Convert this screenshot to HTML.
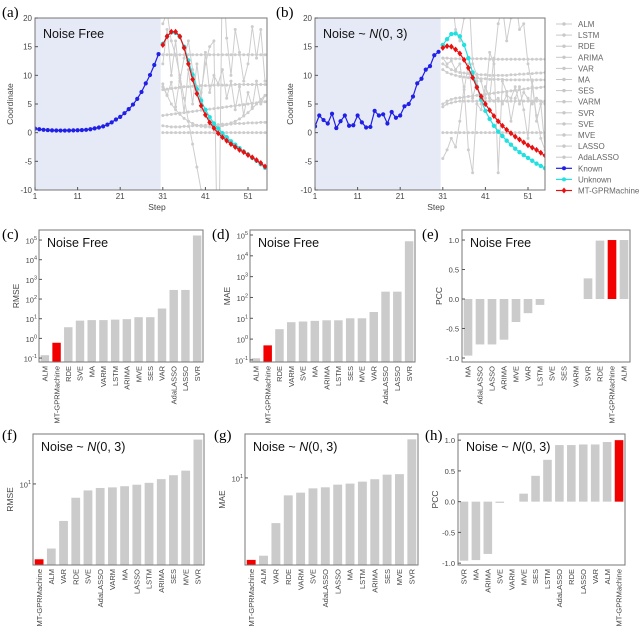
<!DOCTYPE html>
<html><head><meta charset="utf-8">
<style>
html,body{margin:0;padding:0;background:#fff;overflow:hidden;}
svg{display:block;font-family:"Liberation Sans",sans-serif;}
</style></head>
<body>
<svg id="fig" width="640" height="628" viewBox="0 0 640 628"></svg>
<script>
// ---------- line chart data ----------
const knownA = [0.7,0.6,0.5,0.45,0.4,0.38,0.37,0.37,0.38,0.4,0.42,0.45,0.5,0.6,0.75,0.9,1.1,1.4,1.8,2.3,2.75,3.4,4.1,4.9,5.9,7.1,8.6,10.05,11.8,13.7];
const unknownA = [15.5,16.8,17.5,17.4,16.7,15,12.6,10.1,7.6,5.6,4.0,2.7,1.6,0.7,-0.1,-0.8,-1.5,-2.1,-2.7,-3.3,-3.8,-4.4,-4.9,-5.5,-6.1];
const mtA = [15.3,16.8,17.6,17.6,16.8,14.8,12,9.3,6.8,4.7,3.1,1.8,0.8,-0.1,-0.8,-1.4,-2,-2.5,-3,-3.4,-3.9,-4.3,-4.8,-5.3,-5.9];
const grayA1 = [13.6,13.6,13.6,13.6,13.6,13.6,13.6,13.6,13.6,13.6,13.6,13.6,13.6,13.6,13.6,13.6,13.6,13.6,13.6,13.6,13.6,13.6,13.6,13.6,13.6];
const grayA2 = [0,0,0,0,0,0,0,0,0,0,0,0,0,0,0,0,0,0,0,0,0,0,0,0,0];
const grayA3 = [3.0,3.1,3.2,3.3,3.4,3.5,3.6,3.7,3.8,3.9,4.0,4.1,4.2,4.3,4.4,4.5,4.6,4.7,4.8,4.9,5.0,5.1,5.2,5.3,5.4];
const grayA4 = [7.5,7.6,7.7,7.8,7.9,8.0,8.0,8.1,8.1,8.2,8.2,8.2,8.3,8.3,8.3,8.3,8.3,8.4,8.4,8.4,8.4,8.4,8.4,8.4,8.4];
const grayA5 = [8.5,6.5,8.8,4.5,9.5,3.5,11,5,12,6,14,7,10,8.5,11,6,9,4,8,3,7,4.5,9,5,6.5];
const grayA6 = [19,21,16,13.5,10,6,2,-2,-6,-10,-14,-18,-22,-26,-30,-34,-38,-42,-46,-50,-54,-58,-62,-66,-70];
const grayA7 = [8,6.5,5,4,3.2,2.5,2,1.6,1.3,1.1,1.0,1.0,1.0,1.1,1.2,1.4,1.7,2.0,2.4,2.9,3.5,4.2,5.0,5.8,6.5];
const grayA8 = [1.2,1.1,1.0,1.0,1.0,1.1,1.1,1.2,1.2,1.3,1.3,1.4,1.4,1.4,1.5,1.5,1.5,1.6,1.6,1.6,1.7,1.7,1.7,1.8,1.8];
const grayA9 = [12,18,10,16,9,13,16,11,8,7,12,15,16,-30,30,16.5,10,18,14,9,12,18.5,13,18,9];

const knownB = [1.1,3.0,2.2,1.6,3.3,0.8,2.0,3.0,1.2,1.3,3.0,1.8,0.9,1.0,3.8,3.0,3.2,1.6,3.6,2.6,3.0,4.6,5.0,6.3,8.6,9.4,11,11.6,13.5,14.1];
const unknownB = [15.3,16.3,17.2,17.3,16.8,15.3,13,10.5,8,5.8,3.8,2.4,1.2,0.2,-0.6,-1.4,-2.1,-2.8,-3.4,-3.9,-4.4,-4.9,-5.4,-5.8,-6.2];
const mtB = [14.8,15.1,15.0,14.5,13.8,12.7,11.3,9.6,7.9,6.3,5.0,3.9,2.9,2.0,1.2,0.5,-0.1,-0.7,-1.2,-1.7,-2.2,-2.6,-3.0,-3.5,-4.0];
const grayB1 = [13.0,13.0,12.9,12.9,12.9,12.9,12.9,12.9,12.9,12.9,12.9,12.8,12.8,12.8,12.8,12.8,12.8,12.8,12.8,12.8,12.8,12.8,12.8,12.8,12.8];
const grayB2 = [0,0,0,0,0,0,0,0,0,0,0,0,0,0,0,0,0,0,0,0,0,0,0,0,0];
const grayB3 = [11,10.5,10.2,10,9.8,9.7,9.6,9.5,9.5,9.4,9.4,9.3,9.3,9.3,9.3,9.2,9.2,9.2,9.2,9.2,9.2,9.2,9.2,9.2,9.2];
const grayB4 = [12,11.5,11,10.7,10.5,10.4,10.3,10.2,10.2,10.1,10.1,10,10,10,10,10,10.1,10.1,10.2,10.2,10.3,10.3,10.4,10.4,10.5];
const grayB5 = [5,5.5,5.8,6,6.1,6.2,6.3,6.4,6.5,6.6,6.7,6.8,6.9,7,7.1,7.2,7.3,7.4,7.5,7.6,7.7,7.8,7.8,7.9,8];
const grayB6 = [4.5,5,5.2,5.4,5.5,5.5,5.5,5.5,5.5,5.5,5.5,5.5,5.5,5.5,5.5,5.5,5.5,5.5,5.5,5.5,5.5,5.5,5.5,5.5,5.5];
const grayB7 = [-4.5,-3,-1,-2.5,2,8,-3,-7,5,4,8,6,13,-7,9,7,2,6,8,4,-1,9,2,5,-2.5];
const grayB8 = [22,30,25,18,16,20,26,12,10,9,6,14,12,19,22,16,20,24,18,19,12,8,3,-1,-3];
const grayB9 = [13,12,12.5,11,12,7.5,12,6,9,5,8,6,5.5,6,5,6.5,6,8,5,7,6,5,6,5.5,5];

const stepTicks = [1,11,21,31,41,51];
const coordTicks = [-10,-5,0,5,10,15,20];
const legendNames = ["ALM","LSTM","RDE","ARIMA","VAR","MA","SES","VARM","SVR","SVE","MVE","LASSO","AdaLASSO"];

// ---------- bar chart data ----------
const catsC = ["ALM","MT-GPRMachine","RDE","SVE","MA","VARM","LSTM","ARIMA","MVE","SES","VAR","AdaLASSO","LASSO","SVR"];
const valsC = [0.14,0.6,3.7,8,8.5,8.5,9,9.5,12,12,33,290,290,170000];
const catsD = ["ALM","MT-GPRMachine","RDE","VARM","SVE","MA","ARIMA","LSTM","SES","MVE","VAR","AdaLASSO","LASSO","SVR"];
const valsD = [0.12,0.5,3,6.5,7,7.5,8,8,10,10,20,190,190,50000];
const catsE = ["MA","AdaLASSO","LASSO","ARIMA","MVE","VAR","LSTM","SVE","SES","VARM","SVR","RDE","MT-GPRMachine","ALM"];
const valsE = [-0.96,-0.77,-0.77,-0.69,-0.39,-0.24,-0.1,0,0,0,0.35,0.99,1.0,1.0];
const catsF = ["MT-GPRMachine","ALM","VAR","RDE","SVE","AdaLASSO","VARM","MA","LASSO","LSTM","ARIMA","SES","MVE","SVR"];
const valsF = [2.58,3.13,5.14,7.8,8.9,9.3,9.4,9.6,9.86,10.2,10.9,11.7,12.7,22.2];
const catsG = ["MT-GPRMachine","ALM","VAR","RDE","VARM","SVE","AdaLASSO","LASSO","MA","LSTM","ARIMA","SES","MVE","SVR"];
const valsG = [2.32,2.5,4.47,7.33,7.69,8.3,8.46,8.87,9.04,9.36,9.77,10.6,10.7,19.9];
const catsH = ["SVR","MA","ARIMA","SVE","VARM","MVE","SES","LSTM","AdaLASSO","RDE","LASSO","VAR","ALM","MT-GPRMachine"];
const valsH = [-0.96,-0.95,-0.85,-0.02,0,0.13,0.42,0.68,0.92,0.92,0.93,0.93,0.97,1.0];
const logTicksCD = [-1,0,1,2,3,4,5];
const pccTicks = [-1.0,-0.5,0.0,0.5,1.0];

// ---------- helpers ----------
const NS = "http://www.w3.org/2000/svg";
const fig = document.getElementById("fig");
function mk(parent, tag, attrs, name, inter) {
  const el = document.createElementNS(NS, tag);
  for (const k in attrs) el.setAttribute(k, attrs[k]);
  
  
  parent.appendChild(el);
  return el;
}
function txt(parent, x, y, s, size, name, extra) {
  const a = Object.assign({x:x, y:y, 'font-size':size, fill:'#444'}, extra || {});
  const t = mk(parent, 'text', a, name, false);
  t.textContent = s;
  return t;
}
function sup10(parent, x, y, e, name) {
  const t = mk(parent, 'text', {x:x, y:y, 'font-size':7.5, fill:'#444', 'text-anchor':'end'}, name, false);
  const a = document.createElementNS(NS, 'tspan');
  a.textContent = '10';
  t.appendChild(a);
  const b = document.createElementNS(NS, 'tspan');
  b.setAttribute('dy', '-3.5');
  b.setAttribute('font-size', '5.5');
  b.textContent = String(e);
  t.appendChild(b);
}
function noiseTitle(parent, x, y, name) {
  const t = mk(parent, 'text', {x:x, y:y, 'font-size':12.5, fill:'#111'}, name, false);
  t.appendChild(document.createTextNode('Noise ~ '));
  const i = document.createElementNS(NS, 'tspan');
  i.setAttribute('font-style', 'italic');
  i.textContent = 'N';
  t.appendChild(i);
  t.appendChild(document.createTextNode('(0, 3)'));
}
function panelLabel(x, y, s) {
  txt(fig, x, y, s, 15, 'panel-label-' + s.replace(/[()]/g,''), {'font-family':'"Liberation Serif",serif', fill:'#000'});
}
function ptsStr(xs, ys, start, arr) {
  return arr.map((v,i)=> xs(start+i).toFixed(1)+','+ys(v).toFixed(1)).join(' ');
}

// ---------- line chart ----------
function lineChart(id, L, R, T, B, known, unknown, mt, grays, titleFn) {
  const g = mk(fig, 'g', {}, 'line-chart-' + id, false);
  const xs = s => L + (s - 1) * 4.26;
  const ys = v => B - (v + 10) / 30 * (B - T);
  mk(g, 'rect', {x:L, y:T, width:xs(30.5)-L, height:B-T, fill:'#e6eaf6'}, 'known-region-shade', false);
  const cp = mk(g, 'clipPath', {id:'clip'+id}, 'plot-clip', false);
  mk(cp, 'rect', {x:L, y:T, width:R-L, height:B-T}, 'clip-rect', false);
  const pg = mk(g, 'g', {'clip-path':'url(#clip'+id+')'}, 'plot-area', false);
  grays.forEach((arr, k) => {
    mk(pg, 'polyline', {points:ptsStr(xs, ys, 31, arr), fill:'none', stroke:'#cdcdcd', 'stroke-width':1}, 'baseline-series-line', false);
    arr.forEach((v,i) => {
      mk(pg, 'circle', {cx:xs(31+i), cy:ys(v), r:1.5, fill:'#cdcdcd'}, 'baseline-point', false);
    });
  });
  mk(pg, 'polyline', {points:ptsStr(xs, ys, 1, known), fill:'none', stroke:'#1f1fe6', 'stroke-width':1.2}, 'known-line', false);
  known.forEach((v,i) => {
    mk(pg, 'circle', {cx:xs(1+i), cy:ys(v), r:2.1, fill:'#1f1fe6'}, 'known-point', false);
  });
  mk(pg, 'polyline', {points:ptsStr(xs, ys, 31, unknown), fill:'none', stroke:'#22e0e0', 'stroke-width':1.2}, 'unknown-line', false);
  unknown.forEach((v,i) => {
    mk(pg, 'circle', {cx:xs(31+i), cy:ys(v), r:2.2, fill:'#22e0e0'}, 'unknown-point', false);
  });
  mk(pg, 'polyline', {points:ptsStr(xs, ys, 31, mt), fill:'none', stroke:'#e81010', 'stroke-width':1.2}, 'mt-gpr-line', false);
  mt.forEach((v,i) => {
    const x = xs(31+i), y = ys(v);
    mk(pg, 'polygon', {points:`${x},${y-3} ${x+2.4},${y} ${x},${y+3} ${x-2.4},${y}`, fill:'#e81010'}, 'mt-gpr-point', false);
  });
  mk(g, 'rect', {x:L, y:T, width:R-L, height:B-T, fill:'none', stroke:'#777', 'stroke-width':1}, 'plot-frame', false);
  stepTicks.forEach(s => {
    mk(g, 'line', {x1:xs(s), x2:xs(s), y1:B, y2:B-3, stroke:'#555'}, 'x-tick', false);
    txt(g, xs(s), B+9, String(s), 8, 'x-tick-label', {'text-anchor':'middle'});
  });
  coordTicks.forEach(v => {
    mk(g, 'line', {x1:L, x2:L+3, y1:ys(v), y2:ys(v), stroke:'#555'}, 'y-tick', false);
    txt(g, L-3, ys(v)+3, String(v), 8, 'y-tick-label', {'text-anchor':'end'});
  });
  txt(g, (L+R)/2 + 6, B+20, 'Step', 8.5, 'x-axis-title', {'text-anchor':'middle'});
  txt(g, 0, 0, 'Coordinate', 8.5, 'y-axis-title', {'text-anchor':'middle', transform:`translate(${L-22},${(T+B)/2}) rotate(-90)`});
  titleFn(g, L+8, T+20);
}
lineChart('a', 35, 267, 18, 190, knownA, unknownA, mtA,
  [grayA1,grayA2,grayA3,grayA4,grayA5,grayA6,grayA7,grayA8,grayA9],
  (g,x,y) => txt(g, x, y, 'Noise Free', 12.5, 'panel-title', {fill:'#111'}));
lineChart('b', 315, 545, 18, 190, knownB, unknownB, mtB,
  [grayB1,grayB2,grayB3,grayB4,grayB5,grayB6,grayB7,grayB8,grayB9],
  (g,x,y) => noiseTitle(g, x, y, 'panel-title'));
panelLabel(2, 17, '(a)');
panelLabel(276, 17, '(b)');

// legend
const lg = mk(fig, 'g', {}, 'legend', false);
legendNames.forEach((n, i) => {
  const y = 24 + i * 11.1;
  const e = mk(lg, 'g', {}, 'legend-entry-' + n.toLowerCase(), true);
  mk(e, 'line', {x1:556, x2:572, y1:y, y2:y, stroke:'#c8c8c8'}, 'legend-line', false);
  mk(e, 'circle', {cx:564, cy:y, r:1.7, fill:'#c8c8c8'}, 'legend-marker', false);
  txt(e, 578, y+3, n, 8, 'legend-text', {fill:'#666'});
});
[['Known','#1f1fe6'],['Unknown','#22e0e0'],['MT-GPRMachine','#e81010']].forEach((p, j) => {
  const y = 24 + (13 + j) * 11.1;
  const e = mk(lg, 'g', {}, 'legend-entry-' + p[0].toLowerCase(), true);
  mk(e, 'line', {x1:556, x2:572, y1:y, y2:y, stroke:p[1], 'stroke-width':1.2}, 'legend-line', false);
  if (j === 2) mk(e, 'polygon', {points:`564,${y-3} 566.4,${y} 564,${y+3} 561.6,${y}`, fill:p[1]}, 'legend-marker', false);
  else mk(e, 'circle', {cx:564, cy:y, r:2, fill:p[1]}, 'legend-marker', false);
  txt(e, 578, y+3, p[0], 8, 'legend-text', {fill:'#666'});
});

// ---------- bar chart ----------
function barChart(id, L, R, T, B, cats, vals, scale, ticks, tickFmt, ylab, titleFn) {
  const g = mk(fig, 'g', {}, 'bar-chart-' + id, false);
  const slot = (R - L) / cats.length;
  const bw = slot * 0.72;
  const ys = scale;
  const base = scale.base;
  cats.forEach((c, i) => {
    const cx = L + slot * (i + 0.5);
    const y = ys(vals[i]);
    const red = c === 'MT-GPRMachine';
    mk(g, 'rect', {x:cx-bw/2, y:Math.min(y, base), width:bw, height:Math.abs(base - y), fill: red ? '#f20000' : '#cbcbcb'}, 'bar-' + c.toLowerCase(), true);
    txt(g, 0, 0, c, 7.5, 'x-tick-label', {'text-anchor':'end', fill:'#444', transform:`translate(${cx+2.7},${B+4}) rotate(-90)`});
  });
  mk(g, 'rect', {x:L, y:T, width:R-L, height:B-T, fill:'none', stroke:'#777'}, 'plot-frame', false);
  ticks.forEach(v => {
    const y = tickFmt.log ? scale.fromExp(v) : ys(v);
    mk(g, 'line', {x1:L, x2:L+3, y1:y, y2:y, stroke:'#555'}, 'y-tick', false);
    if (tickFmt.log) sup10(g, L-2, y+3.5, v, 'y-tick-label');
    else txt(g, L-3, y+3, v.toFixed(1), 7.5, 'y-tick-label', {'text-anchor':'end'});
  });
  txt(g, 0, 0, ylab, 8.5, 'y-axis-title', {'text-anchor':'middle', transform:`translate(${L-20},${(T+B)/2}) rotate(-90)`});
  titleFn(g, L+8, T+17);
}
function logScale(T, B, eTop, eBot) {
  const f = v => B - (Math.log10(v) - eBot) / (eTop - eBot) * (B - T);
  f.fromExp = e => B - (e - eBot) / (eTop - eBot) * (B - T);
  f.base = B;
  return f;
}
function linScale(T, B, top, bot) {
  const f = v => B - (v - bot) / (top - bot) * (B - T);
  f.base = f(0);
  return f;
}
const nf = (g,x,y) => txt(g, x, y, 'Noise Free', 12.5, 'panel-title', {fill:'#111'});
const nn = (g,x,y) => noiseTitle(g, x, y, 'panel-title');

barChart('c', 39, 203, 230, 362, catsC, valsC, logScale(230, 362, 5.51, -1.2), logTicksCD, {log:true}, 'RMSE', nf);
barChart('d', 250, 415, 230, 362, catsD, valsD, logScale(230, 362, 5.24, -1.1), logTicksCD, {log:true}, 'MAE', nf);
barChart('e', 462, 630, 230, 362, catsE, valsE, linScale(230, 362, 1.17, -1.068), pccTicks, {log:false}, 'PCC', nf);
barChart('f', 33, 204, 434, 565, catsF, valsF, logScale(434, 565, 1.39, 0.367), [1], {log:true}, 'RMSE', nn);
barChart('g', 245, 418, 434, 565, catsG, valsG, logScale(434, 565, 1.34, 0.326), [1], {log:true}, 'MAE', nn);
barChart('h', 458, 625, 434, 565, catsH, valsH, linScale(434, 565, 1.1, -1.03), pccTicks, {log:false}, 'PCC', nn);
panelLabel(2, 239, '(c)');
panelLabel(212, 239, '(d)');
panelLabel(422, 239, '(e)');
panelLabel(2, 440, '(f)');
panelLabel(214, 440, '(g)');
panelLabel(425, 440, '(h)');
</script>
</body></html>
